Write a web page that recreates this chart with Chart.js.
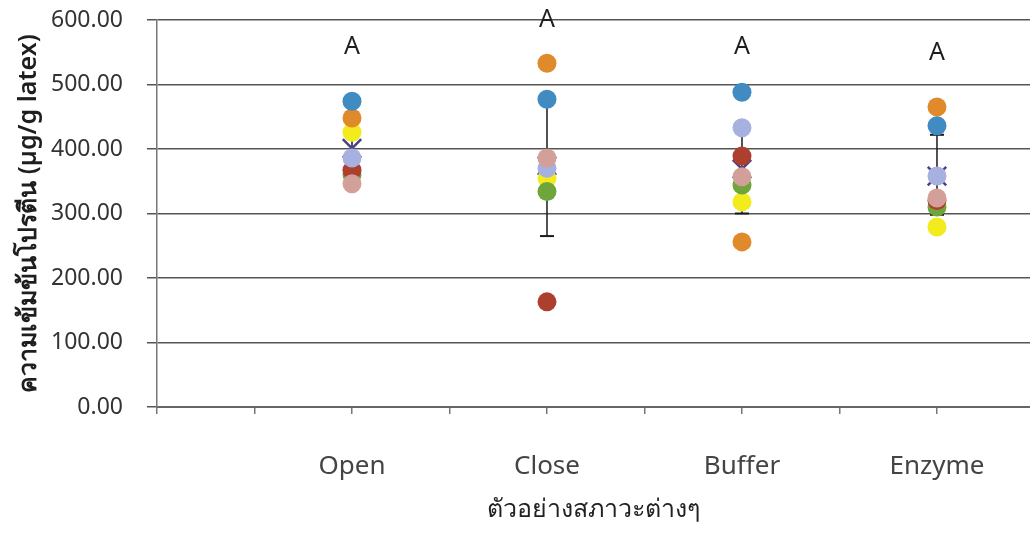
<!DOCTYPE html>
<html>
<head>
<meta charset="utf-8">
<script src="https://cdn.jsdelivr.net/npm/chart.js@4.4.1/dist/chart.umd.min.js"></script>
<style>
  html, body { margin: 0; padding: 0; background: #ffffff; }
  #wrap { width: 1030px; height: 533px; position: relative; }
</style>
</head>
<body>
<div id="wrap"><canvas id="c" width="1030" height="533"></canvas></div>
<script>
// ---- data ----
const categories = ['Open', 'Close', 'Buffer', 'Enzyme'];
const yTickValues = [0, 100, 200, 300, 400, 500, 600];
const seriesYellow   = [426, 355, 318, 279];
const seriesGreen    = [360, 334, 344, 310];
const seriesOrange   = [448, 533, 256, 465];
const seriesBlue     = [474, 477, 488, 436];
const seriesDarkRed  = [367, 163, 389, 320];
const seriesLavender = [386, 370, 433, 358];
const seriesPink     = [346, 386, 357, 324];
const meanValues     = [401, 374, 369, 358];
const errLow         = [352, 265, 300, 298];
const errHigh        = [450, 483, 440, 422];
const groupLetters   = ['A', 'A', 'A', 'A'];
const letterValues   = [558, 600, 558, 549];
const yTitle = 'ความเข้มข้นโปรตีน (µg/g latex)';
const xTitle = 'ตัวอย่างสภาวะต่างๆ';

const FONT = '"Noto Sans", "DejaVu Sans", sans-serif';

function pts(arr) { return arr.map((v, i) => ({ x: i + 1, y: v })); }

const colored = [
  { data: seriesYellow,   color: '#f2ec1e' },
  { data: seriesGreen,    color: '#6fa63c' },
  { data: seriesOrange,   color: '#e08a2c' },
  { data: seriesBlue,     color: '#3f8bc2' },
  { data: seriesDarkRed,  color: '#ad3f2e' },
  { data: seriesLavender, color: '#a7b1df' },
  { data: seriesPink,     color: '#d3a099' }
];

const datasets = [];
// error bars (behind everything)
categories.forEach((c, i) => {
  datasets.push({
    type: 'line',
    data: [{ x: i + 1, y: errLow[i] }, { x: i + 1, y: errHigh[i] }],
    borderColor: '#1a1a1a',
    borderWidth: 1.5,
    showLine: true,
    pointStyle: 'line',
    pointRadius: 7,
    pointBorderColor: '#1a1a1a',
    pointBorderWidth: 2,
    order: 100
  });
});
// mean markers
datasets.push({
  type: 'scatter',
  data: pts(meanValues),
  pointStyle: 'crossRot',
  pointRadius: 13,
  pointBorderColor: '#4b3f86',
  pointBorderWidth: 2.5,
  order: 90
});
// colored sample points; later ones on top
colored.forEach((s, k) => {
  datasets.push({
    type: 'scatter',
    data: pts(s.data),
    pointStyle: 'circle',
    pointRadius: 9.5,
    backgroundColor: s.color,
    pointBackgroundColor: s.color,
    pointBorderColor: s.color,
    pointBorderWidth: 0,
    order: 80 - k
  });
});

const lettersPlugin = {
  id: 'letters',
  afterDatasetsDraw(chart) {
    const { ctx, scales } = chart;
    ctx.save();
    ctx.fillStyle = '#1e1e1e';
    ctx.font = '25px ' + FONT;
    ctx.textAlign = 'center';
    ctx.textBaseline = 'middle';
    groupLetters.forEach((t, i) => {
      ctx.fillText(t, scales.x.getPixelForValue(i + 1), scales.y.getPixelForValue(letterValues[i]));
    });
    ctx.restore();
  }
};

// let the plot area run to the right edge of the canvas, as in the reference
const fullWidthPlugin = {
  id: 'fullWidth',
  afterLayout(chart) {
    const W = chart.width;
    const area = chart.chartArea;
    area.right = W;
    area.width = W - area.left;
    const x = chart.scales.x;
    x.right = W;
    x.width = W - x.left;
    x.configure();
  }
};

new Chart(document.getElementById('c'), {
  type: 'scatter',
  data: { datasets },
  plugins: [fullWidthPlugin, lettersPlugin],
  options: {
    responsive: false,
    animation: false,
    layout: { padding: { top: 0, right: 0, left: 0, bottom: 0 } },
    plugins: { legend: { display: false }, tooltip: { enabled: false } },
    scales: {
      x: {
        type: 'linear',
        bounds: 'data',
        min: 0,
        max: 4.477,
        afterBuildTicks(scale) {
          scale.ticks = [];
          for (let v = 0; v <= 4.0001; v += 0.5) scale.ticks.push({ value: v });
        },
        afterFit(scale) {
          scale.height = 126;
          scale.paddingLeft = 0;
          scale.paddingRight = 0;
        },
        grid: {
          drawOnChartArea: false,
          drawTicks: true,
          tickLength: 7,
          color: '#777',
          lineWidth: 1.5
        },
        border: { display: true, color: '#666', width: 2 },
        ticks: {
          autoSkip: false,
          maxRotation: 0,
          padding: 37,
          color: '#444',
          font: { family: FONT, size: 26 },
          callback(v) {
            const idx = Math.round(v) - 1;
            return (Math.abs(v - Math.round(v)) < 1e-6 && idx >= 0 && idx < categories.length) ? categories[idx] : '';
          }
        },
        title: {
          display: true,
          text: xTitle,
          color: '#222',
          font: { family: FONT, size: 25 },
          padding: { top: 0, bottom: 8 }
        }
      },
      y: {
        min: 0,
        max: 600,
        afterBuildTicks(scale) {
          scale.ticks = yTickValues.map(v => ({ value: v }));
        },
        afterFit(scale) {
          scale.width = 157;
          scale.paddingTop = 20;
          scale.paddingBottom = 0;
        },
        grid: {
          color: '#555',
          lineWidth: 1.5,
          tickLength: 10
        },
        border: { display: true, color: '#777', width: 1.5 },
        ticks: {
          padding: 24,
          color: '#333',
          font: { family: FONT, size: 23 },
          callback(v) { return Number(v).toFixed(2); }
        },
        title: {
          display: true,
          text: yTitle,
          color: '#1e1e1e',
          font: { family: FONT, size: 25, weight: '600' },
          padding: { top: 14, bottom: 0 }
        }
      }
    }
  }
});
</script>
</body>
</html>
